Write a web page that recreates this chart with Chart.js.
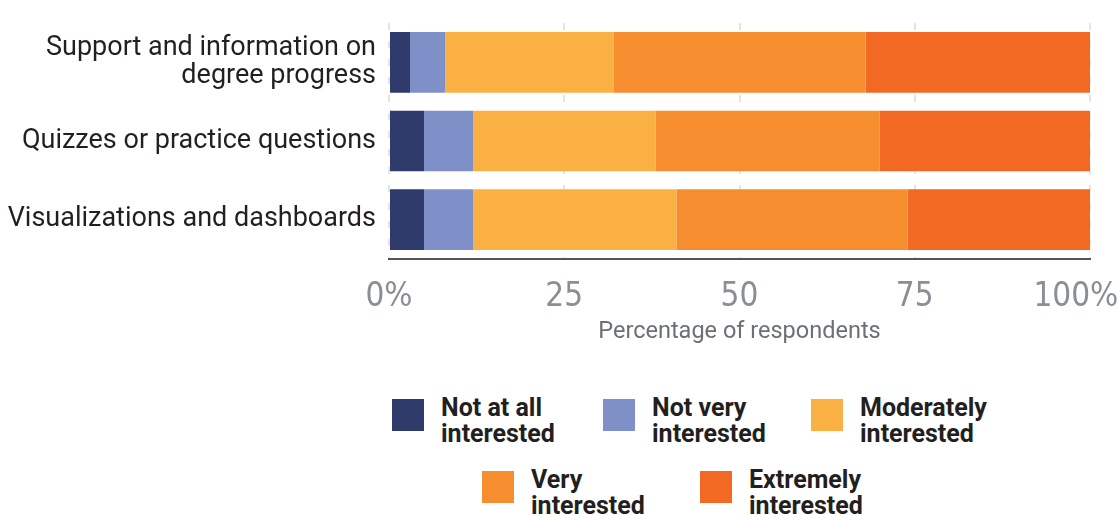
<!DOCTYPE html>
<html>
<head>
<meta charset="utf-8">
<script src="https://cdn.jsdelivr.net/npm/chart.js@4/dist/chart.umd.min.js"></script>
<style>
  body { margin: 0; background: #fff; }
  #wrap { position: relative; width: 1120px; height: 515px; }
  #myChart { position: absolute; left: 0; top: 0; }
  .row { position: absolute; display: flex; }
  .item { display: flex; align-items: flex-start; }
  .box { width: 32px; height: 32px; margin-top: 4px; margin-right: 17px; flex: none; }
  .txt { font: bold 25px Roboto, sans-serif; line-height: 26px; color: #231f20; white-space: pre; }
</style>
</head>
<body>
<div id="wrap">
  <canvas id="myChart" width="1120" height="360"></canvas>
  <div class="row" id="row1" style="left:392px; top:395px;"></div>
  <div class="row" id="row2" style="left:482px; top:467px;"></div>
</div>
<script>
//------------------------------------------------------//
// data
let categories = [["Support and information on", "degree progress"], "Quizzes or practice questions", "Visualizations and dashboards"]
let notAtAll = [3, 5, 5]
let notVery = [5, 7, 7]
let moderately = [24, 26, 29]
let very = [36, 32, 33]
let extremely = [32, 30, 26]
let seriesNames = ["Not at all\ninterested", "Not very\ninterested", "Moderately\ninterested", "Very\ninterested", "Extremely\ninterested"]
let seriesColors = ["#2e3b6b", "#7f8fc8", "#fbb044", "#f68d2e", "#f16922"]
let xTickLabels = ["0%", "25", "50", "75", "100%"]


//------------------------------------------------------//
// build the datasets from the arrays above
const allSeries = [notAtAll, notVery, moderately, very, extremely]
const datasets = allSeries.map((vals, i) => ({
    label: seriesNames[i],
    data: vals,
    backgroundColor: seriesColors[i],
    borderWidth: 0,
    barPercentage: 0.772,
    categoryPercentage: 1
}))

// last label sits a bit left of its tick in the original, pad it so it isn't cut off
const tickLabel = (v, i) => i === xTickLabels.length - 1 ? xTickLabels[i] + '   ' : xTickLabels[i]

const ctx = document.getElementById('myChart').getContext('2d');
const chart = new Chart(ctx, {
    type: 'bar',
    data: {
        labels: categories,
        datasets: datasets
    },
    options: {
        indexAxis: 'y',
        responsive: false,
        animation: false,
        layout: { padding: { top: 23, right: 30, left: 0, bottom: 0 } },
        plugins: {
            legend: { display: false },
            tooltip: { enabled: false }
        },
        scales: {
            x: {
                stacked: true,
                min: 0,
                max: 100,
                // keep the plot from shrinking for the "100%" label
                afterFit: (s) => { s.height = 101; s.paddingLeft = 0; s.paddingRight = 0 },
                ticks: {
                    stepSize: 25,
                    padding: 19,
                    color: '#8a8f97',
                    font: { family: "'Liberation Sans Narrow', 'DejaVu Sans Condensed', Roboto", size: 33 },
                    callback: tickLabel
                },
                grid: { color: '#e4e4e4', lineWidth: 2, drawTicks: false },
                border: { color: '#555555', width: 2, dash: [7, 11] },
                title: {
                    display: true,
                    text: 'Percentage of respondents',
                    color: '#6b7078',
                    font: { family: 'Roboto', size: 23.5 },
                    padding: { top: 0, bottom: 14 }
                }
            },
            y: {
                stacked: true,
                afterFit: (s) => { s.width = 389; s.paddingTop = 0; s.paddingBottom = 0 },
                grid: { display: false, drawTicks: false },
                border: { display: false },
                ticks: {
                    padding: 13,
                    color: '#231f20',
                    font: { family: 'Roboto', size: 27, lineHeight: 1.04 }
                }
            }
        }
    }
});

//------------------------------------------------------//
// html legend, two rows like the original
const rowWidths = [211, 208, 200, 218, 200]
seriesNames.forEach((name, i) => {
    const item = document.createElement('div')
    item.className = 'item'
    item.style.width = rowWidths[i] + 'px'
    const box = document.createElement('div')
    box.className = 'box'
    box.style.background = seriesColors[i]
    const txt = document.createElement('div')
    txt.className = 'txt'
    txt.textContent = name
    item.appendChild(box)
    item.appendChild(txt)
    document.getElementById(i < 3 ? 'row1' : 'row2').appendChild(item)
})
</script>
</body>
</html>
